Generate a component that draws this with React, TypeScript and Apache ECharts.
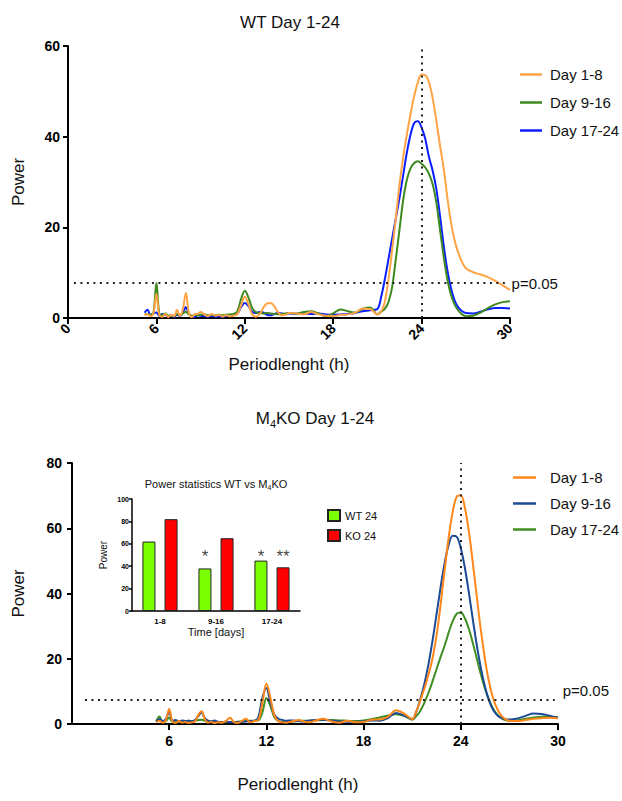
import React, { useEffect, useRef } from 'react';
import * as echarts from 'echarts';

// ---------- data ----------
const periods = [
  5.2, 5.4, 5.6, 5.8, 6.0, 6.2, 6.4, 6.6, 6.8, 7.0,
  7.2, 7.4, 7.6, 7.8, 8.0, 8.2, 8.4, 8.6, 8.8, 9.0,
  9.25, 9.5, 9.75, 10, 10.25, 10.5, 10.75, 11, 11.25, 11.5,
  11.75, 12, 12.25, 12.5, 12.75, 13, 13.25, 13.5, 13.75, 14,
  14.25, 14.5, 14.75, 15, 15.5, 16, 16.5, 17, 17.5, 18,
  18.5, 19, 19.5, 20, 20.5, 21, 21.25, 21.5, 21.75, 22,
  22.25, 22.5, 22.75, 23, 23.25, 23.5, 23.75, 24, 24.25, 24.5,
  24.75, 25, 25.25, 25.5, 25.75, 26, 26.25, 26.5, 26.75, 27,
  27.5, 28, 28.5, 29, 29.5, 30,
];

// WT
const wtDay1to8 = [
  0.6, 0.8, 0.4, 1.0, 5.3, 0.6, 0.3, 0.9, 0.2, 0.7,
  0.4, 1.8, 0.5, 2.0, 5.5, 1.2, 0.2, 0.8, 0.9, 1.3,
  0.8, 0.4, 0.9, 0.5, 0.7, 0.3, 0.6, 0.4, 0.5, 0.9,
  2.8, 4.7, 3.0, 0.8, 0.3, 0.8, 2.2, 3.2, 3.3, 2.6,
  1.3, 0.6, 0.7, 1.1, 1.0, 0.8, 1.3, 0.8, 0.5, 0.4,
  0.7, 0.8, 1.2, 2.1, 2.0, 0.8, 1.4, 3.5, 8.5, 15.0,
  22.0, 29.5, 35.5, 40.5, 45.0, 49.0, 52.0, 53.7, 53.6, 52.0,
  48.5, 43.5, 38.0, 33.0, 26.5, 21.0, 17.0, 14.3, 12.3, 11.0,
  10.1, 9.6, 9.0, 8.2, 7.2, 6.2,
];
const wtDay9to16 = [
  0.8, 0.9, 0.7, 1.2, 7.7, 0.9, 0.6, 1.0, 0.5, 0.6,
  0.5, 0.9, 0.6, 1.0, 1.4, 0.8, 0.5, 0.7, 0.6, 0.7,
  0.8, 0.6, 0.7, 0.6, 0.7, 0.6, 0.7, 0.8, 0.9, 1.5,
  4.2, 6.0, 4.5, 2.2, 1.3, 1.1, 1.0, 1.1, 1.0, 0.9,
  0.8, 0.9, 1.0, 1.1, 1.0, 1.3, 1.5, 1.0, 0.4, 1.0,
  1.9, 1.5, 1.2, 2.0, 2.3, 0.8, 1.4, 2.0, 3.5, 6.8,
  13.0, 19.5, 26.0, 30.5, 33.0, 34.2, 34.6, 34.0, 33.2, 31.8,
  29.5, 25.5, 19.5, 13.5, 8.5, 5.0, 2.9, 1.6, 0.8, 0.4,
  0.5, 1.2, 2.2, 3.0, 3.5, 3.7,
];
const wtDay17to24 = [
  1.2, 1.8, 0.6, 1.0, 1.2, 0.5, 0.9, 0.7, 0.4, 0.6,
  0.3, 0.7, 0.5, 1.2, 2.4, 1.0, 0.4, 0.3, 0.6, 0.5,
  0.4, 0.3, 0.5, 0.3, 0.4, 0.3, 0.4, 0.5, 0.7, 1.0,
  2.4, 3.3, 2.6, 1.4, 1.1, 1.3, 1.2, 0.7, 0.6, 0.9,
  1.1, 1.0, 0.9, 1.0, 0.9, 1.0, 0.9, 1.0, 0.8, 0.7,
  0.8, 0.9, 1.1, 1.5, 1.7, 2.0, 4.6, 8.5, 13.0, 17.5,
  22.0, 26.5, 31.5, 36.5, 40.5, 43.0, 43.4, 42.0, 39.5, 35.5,
  32.5, 28.5, 22.5, 16.0, 10.5, 6.5, 3.8, 2.3, 1.5, 1.1,
  1.0, 1.4, 1.9, 2.2, 2.2, 2.1,
];

// M4KO
const koDay1to8 = [
  0.5, 1.0, 0.4, 1.2, 4.6, 0.8, 0.3, 0.9, 0.4, 0.6,
  0.3, 0.5, 0.8, 2.8, 3.9, 1.5, 0.4, 0.6, 0.3, 0.5,
  0.4, 0.9, 1.9, 0.6, 0.3, 1.0, 1.6, 0.5, 0.9, 1.2,
  6.5, 12.3, 8.0, 2.5, 0.8, 0.5, 0.4, 0.7, 1.0, 1.2,
  0.9, 0.5, 0.6, 1.0, 1.6, 0.8, 0.4, 1.0, 0.5, 0.6,
  1.3, 1.4, 2.2, 4.2, 3.2, 1.5, 3.8, 7.2, 10.8, 15.0,
  20.0, 27.0, 36.4, 47.0, 57.1, 65.1, 69.7, 70.1, 66.3, 58.9,
  49.1, 38.5, 28.3, 19.6, 12.7, 7.8, 4.6, 2.6, 1.5, 1.0,
  0.9, 1.2, 1.6, 1.8, 1.9, 1.8,
];
const koDay9to16 = [
  0.8, 1.5, 0.9, 1.6, 3.8, 1.0, 1.2, 0.8, 1.1, 0.9,
  1.0, 0.8, 1.2, 2.5, 3.5, 1.8, 1.0, 0.8, 1.1, 0.7,
  0.6, 0.7, 0.6, 0.5, 0.6, 0.7, 0.8, 0.9, 1.0, 2.0,
  8.0, 11.0, 6.5, 2.8, 1.6, 1.2, 1.0, 1.1, 1.0, 0.9,
  0.8, 0.9, 1.1, 1.2, 1.3, 1.0, 0.8, 0.7, 0.6, 0.8,
  1.1, 1.0, 1.8, 3.4, 2.6, 1.5, 3.8, 7.6, 12.3, 18.2,
  25.4, 33.5, 41.8, 49.3, 54.9, 57.7, 57.4, 53.9, 47.9, 40.2,
  31.8, 23.8, 16.9, 11.3, 7.1, 4.3, 2.7, 1.9, 1.5, 1.4,
  1.7, 2.5, 3.2, 3.1, 2.5, 1.9,
];
const koDay17to24 = [
  0.8, 2.3, 0.6, 0.9, 2.0, 0.7, 0.9, 0.7, 0.8, 0.9,
  1.0, 0.9, 1.0, 1.2, 1.3, 1.0, 0.8, 0.7, 0.6, 0.6,
  0.5, 0.5, 0.6, 0.6, 0.7, 0.8, 0.9, 1.0, 1.0, 1.1,
  3.5, 8.0, 5.5, 2.0, 0.9, 0.6, 0.6, 0.7, 0.8, 0.9,
  1.0, 1.0, 1.1, 1.1, 1.2, 1.2, 1.1, 1.0, 0.9, 1.1,
  1.5, 2.0, 2.6, 3.0, 2.5, 1.3, 2.4, 4.0, 6.5, 9.5,
  13.0, 16.8, 20.5, 24.0, 28.0, 31.5, 33.8, 34.2, 32.4, 29.1,
  24.7, 19.8, 15.0, 10.7, 7.3, 4.6, 2.9, 1.8, 1.2, 1.0,
  1.1, 1.6, 2.0, 2.2, 2.2, 2.1,
];

const seriesNames = ['Day 1-8', 'Day 9-16', 'Day 17-24'];
const wtThreshold = 7.7;
const koThreshold = 7.3;
const circadianPeriod = 24;
const bottomPeriodTicks = [6, 12, 18, 24, 30];

// inset
const insetDays = ['1-8', '9-16', '17-24'];
const insetWT = [62, 38, 45];
const insetKO = [82, 65, 39];
const insetWTStars = ['', '*', '*'];
const insetKOStars = ['', '', '**'];
const starLevel = 49;

// ---------- style ----------
const FONT = '"Liberation Sans", Arial, Helvetica, sans-serif';
const TOP_ORANGE = '#FFA445';
const TOP_GREEN = '#3E8A1E';
const TOP_BLUE = '#0A1EFF';
const BOT_ORANGE = '#FF8618';
const BOT_BLUE = '#1D4A94';
const BOT_GREEN = '#3F8F22';
const DOT = [2, 4.5];

const toPairs = (vals: number[]) => periods.map((p, i) => [p, vals[i]]);

const lineSeries = (name: string, vals: number[], color: string, extra: any = {}) => ({
  name,
  type: 'line',
  data: toPairs(vals),
  smooth: 0.35,
  symbol: 'none',
  lineStyle: { width: 2, color },
  itemStyle: { color },
  silent: true,
  ...extra,
});

const valueAxisCommon = {
  axisLine: { show: true, lineStyle: { color: '#000', width: 2 } },
  axisTick: { show: true, length: 5, lineStyle: { color: '#000', width: 2 } },
  splitLine: { show: false },
};

function dottedMarks(threshold: number, xFrom: number, xTo: number, labelExtra: any) {
  const ls = { type: DOT, width: 2, color: '#222' };
  return {
    silent: true,
    symbol: ['none', 'none'],
    data: [
      { xAxis: circadianPeriod, lineStyle: ls, label: { show: false } },
      [
        {
          coord: [xFrom, threshold],
          lineStyle: ls,
          label: {
            show: true,
            position: 'end',
            formatter: 'p=0.05',
            fontSize: 15,
            color: '#111',
            fontFamily: FONT,
            ...labelExtra,
          },
        },
        { coord: [xTo, threshold] },
      ],
    ],
  };
}

function topOption() {
  return {
    animation: false,
    textStyle: { fontFamily: FONT },
    graphic: [
      {
        type: 'text',
        x: 290,
        y: 22,
        style: {
          text: 'WT Day 1-24',
          fontSize: 17,
          fontFamily: FONT,
          fill: '#111',
          align: 'center',
          verticalAlign: 'middle',
          textAlign: 'center',
          textVerticalAlign: 'middle',
        },
      },
    ],
    legend: {
      orient: 'vertical',
      left: 515,
      top: 62,
      icon: 'rect',
      itemWidth: 22,
      itemHeight: 2.5,
      itemGap: 13,
      data: seriesNames,
      textStyle: { fontSize: 15, color: '#111', fontFamily: FONT, padding: [0, 0, 0, 3] },
    },
    grid: { left: 68, top: 46, width: 442, height: 272 },
    xAxis: {
      type: 'value',
      min: 0,
      max: 30,
      interval: 6,
      name: 'Periodlenght (h)',
      nameLocation: 'middle',
      nameGap: 38,
      nameTextStyle: { fontSize: 17, color: '#111', fontFamily: FONT },
      ...valueAxisCommon,
      axisTick: { show: true, length: 6, lineStyle: { color: '#000', width: 2 } },
      axisLabel: { rotate: 45, fontSize: 14, fontWeight: 'bold', color: '#000', margin: 8, fontFamily: FONT },
    },
    yAxis: {
      type: 'value',
      min: 0,
      max: 60,
      interval: 20,
      name: 'Power',
      nameLocation: 'middle',
      nameGap: 41,
      nameTextStyle: { fontSize: 17, color: '#111', fontFamily: FONT },
      ...valueAxisCommon,
      axisLabel: { fontSize: 14, fontWeight: 'bold', color: '#000', margin: 8, fontFamily: FONT },
    },
    series: [
      lineSeries('Day 17-24', wtDay17to24, TOP_BLUE, {
        markLine: dottedMarks(wtThreshold, 0.4, 29.7, { distance: 6 }),
      }),
      lineSeries('Day 9-16', wtDay9to16, TOP_GREEN),
      lineSeries('Day 1-8', wtDay1to8, TOP_ORANGE),
    ],
  };
}

function bottomOption() {
  return {
    animation: false,
    textStyle: { fontFamily: FONT },
    graphic: [
      {
        type: 'text',
        x: 315,
        y: 28,
        style: {
          text: 'M{sub|4}KO Day 1-24',
          fontSize: 17,
          fontFamily: FONT,
          fill: '#111',
          lineHeight: 22,
          align: 'center',
          verticalAlign: 'middle',
          textAlign: 'center',
          textVerticalAlign: 'middle',
          rich: { sub: { fontSize: 11, lineHeight: 12, verticalAlign: 'bottom', fontFamily: FONT, fill: '#111' } },
        },
      },
      {
        type: 'text',
        x: 216,
        y: 94,
        style: {
          text: 'Power statistics WT vs M{sub|4}KO',
          fontSize: 11,
          fontFamily: FONT,
          fill: '#111',
          lineHeight: 14,
          align: 'center',
          verticalAlign: 'middle',
          textAlign: 'center',
          textVerticalAlign: 'middle',
          rich: { sub: { fontSize: 7, lineHeight: 8, verticalAlign: 'bottom', fontFamily: FONT, fill: '#111' } },
        },
      },
    ],
    legend: [
      {
        orient: 'vertical',
        left: 508,
        top: 75,
        icon: 'rect',
        itemWidth: 23,
        itemHeight: 2.5,
        itemGap: 11,
        data: seriesNames,
        textStyle: { fontSize: 15, color: '#111', fontFamily: FONT, padding: [0, 0, 0, 9] },
      },
      {
        orient: 'vertical',
        left: 322,
        top: 114,
        icon: 'rect',
        itemWidth: 12,
        itemHeight: 11,
        itemGap: 7,
        data: ['WT 24', 'KO 24'],
        textStyle: { fontSize: 11, color: '#111', fontFamily: FONT },
      },
    ],
    grid: [
      { left: 72, top: 73, width: 486, height: 261 },
      { left: 132, top: 109, width: 168, height: 112 },
    ],
    xAxis: [
      {
        type: 'value',
        min: 0,
        max: 30,
        interval: 6,
        name: 'Periodlenght (h)',
        nameLocation: 'middle',
        nameGap: 52,
        nameTextStyle: { fontSize: 17, color: '#111', fontFamily: FONT, padding: [0, 34, 0, 0] },
        ...valueAxisCommon,
        axisTick: { show: true, length: 6, customValues: bottomPeriodTicks, lineStyle: { color: '#000', width: 2 } },
        axisLabel: { customValues: bottomPeriodTicks, fontSize: 14, fontWeight: 'bold', color: '#000', margin: 10, fontFamily: FONT },
      },
      {
        gridIndex: 1,
        type: 'category',
        data: insetDays,
        name: 'Time [days]',
        nameLocation: 'middle',
        nameGap: 15,
        nameTextStyle: { fontSize: 11, color: '#111', fontFamily: FONT },
        axisLine: { show: true, lineStyle: { color: '#000', width: 1.5 } },
        axisTick: { show: false },
        axisLabel: { fontSize: 8, fontWeight: 'bold', color: '#000', margin: 6, fontFamily: FONT },
        splitLine: { show: false },
      },
    ],
    yAxis: [
      {
        type: 'value',
        min: 0,
        max: 80,
        interval: 20,
        name: 'Power',
        nameLocation: 'middle',
        nameGap: 45,
        nameTextStyle: { fontSize: 17, color: '#111', fontFamily: FONT },
        ...valueAxisCommon,
        axisLabel: { fontSize: 14, fontWeight: 'bold', color: '#000', margin: 10, fontFamily: FONT },
      },
      {
        gridIndex: 1,
        type: 'value',
        min: 0,
        max: 100,
        interval: 20,
        name: 'Power',
        nameLocation: 'middle',
        nameGap: 24,
        nameTextStyle: { fontSize: 10, color: '#111', fontFamily: FONT },
        axisLine: { show: true, lineStyle: { color: '#000', width: 1.5 } },
        axisTick: { show: true, length: 3, lineStyle: { color: '#000', width: 1.5 } },
        axisLabel: { fontSize: 7, fontWeight: 'bold', color: '#000', margin: 3, fontFamily: FONT },
        splitLine: { show: false },
      },
    ],
    series: [
      lineSeries('Day 17-24', koDay17to24, BOT_GREEN, {
        markLine: dottedMarks(koThreshold, 0.8, 29.8, { distance: 8, formatter: 'p=0.05\n ', lineHeight: 20 }),
      }),
      lineSeries('Day 9-16', koDay9to16, BOT_BLUE),
      lineSeries('Day 1-8', koDay1to8, BOT_ORANGE),
      {
        name: 'WT 24',
        type: 'bar',
        xAxisIndex: 1,
        yAxisIndex: 1,
        data: insetWT,
        barWidth: 13,
        barGap: '70%',
        silent: true,
        itemStyle: { color: '#7CFF00', borderColor: '#222', borderWidth: 1 },
      },
      {
        name: 'KO 24',
        type: 'bar',
        xAxisIndex: 1,
        yAxisIndex: 1,
        data: insetKO,
        barWidth: 13,
        barGap: '70%',
        silent: true,
        itemStyle: { color: '#FF0000', borderColor: '#222', borderWidth: 1 },
      },
      {
        type: 'scatter',
        xAxisIndex: 1,
        yAxisIndex: 1,
        symbolSize: 0,
        silent: true,
        data: insetDays.map((_, i) => ({ value: [i, starLevel], label: { formatter: insetWTStars[i] } })),
        label: { show: true, position: 'inside', offset: [-11, 0], fontSize: 17, color: '#111', fontFamily: FONT },
      },
      {
        type: 'scatter',
        xAxisIndex: 1,
        yAxisIndex: 1,
        symbolSize: 0,
        silent: true,
        data: insetDays.map((_, i) => ({ value: [i, starLevel], label: { formatter: insetKOStars[i] } })),
        label: { show: true, position: 'inside', offset: [11, 0], fontSize: 17, color: '#111', fontFamily: FONT },
      },
    ],
  };
}

export default function App() {
  const topRef = useRef<HTMLDivElement>(null);
  const bottomRef = useRef<HTMLDivElement>(null);
  useEffect(() => {
    const c1 = echarts.init(topRef.current as HTMLDivElement, undefined, { renderer: 'svg' });
    c1.setOption(topOption() as any);
    const c2 = echarts.init(bottomRef.current as HTMLDivElement, undefined, { renderer: 'svg' });
    c2.setOption(bottomOption() as any);
    return () => {
      c1.dispose();
      c2.dispose();
    };
  }, []);
  return (
    <div style={{ position: 'absolute', left: 0, top: 0, width: 622, height: 801, background: '#fff' }}>
      <div ref={topRef} style={{ width: 622, height: 390 }} />
      <div ref={bottomRef} style={{ width: 622, height: 411 }} />
    </div>
  );
}
